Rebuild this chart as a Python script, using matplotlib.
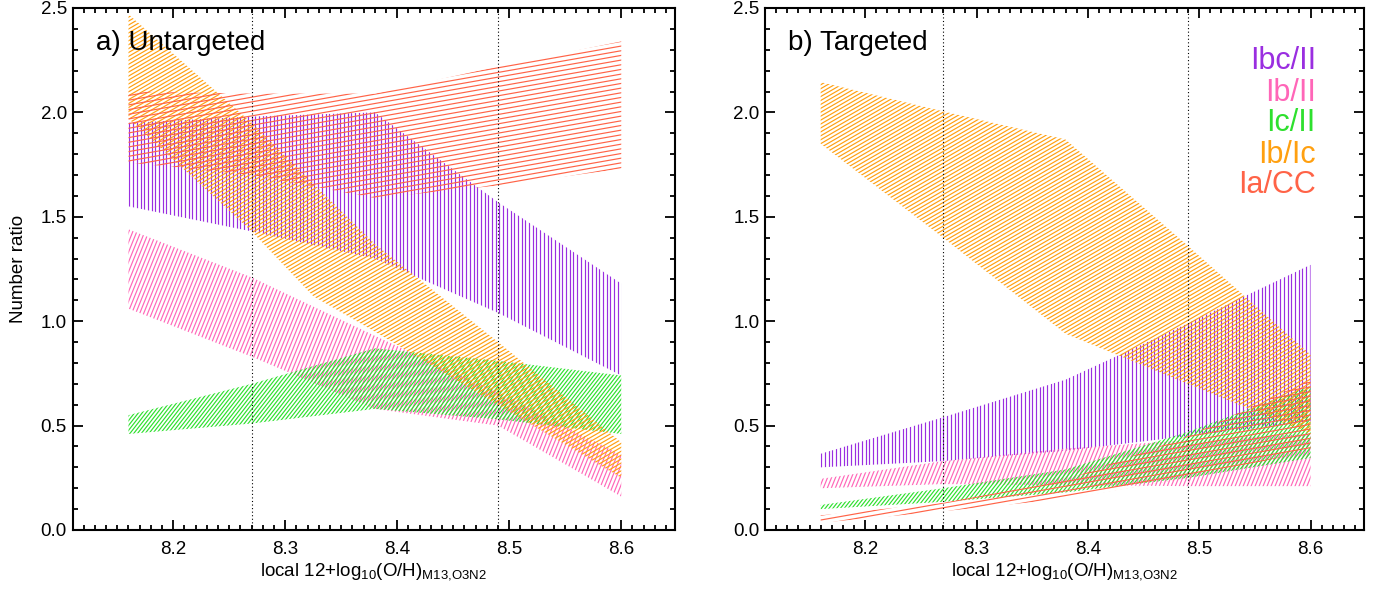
import numpy as np
import matplotlib
matplotlib.use('Agg')
import matplotlib.pyplot as plt
from matplotlib.collections import LineCollection
from matplotlib.transforms import IdentityTransform
from matplotlib.ticker import MultipleLocator, FormatStrFormatter

plt.rcParams['font.family'] = ['Liberation Sans', 'DejaVu Sans']
plt.rcParams['mathtext.fontset'] = 'custom'
plt.rcParams['mathtext.rm'] = 'Liberation Sans'
plt.rcParams['mathtext.it'] = 'Liberation Sans'
plt.rcParams['mathtext.default'] = 'regular'

# ---------------- data ----------------
x5 = [8.16, 8.27, 8.38, 8.49, 8.60]
x6 = [8.16, 8.27, 8.325, 8.38, 8.49, 8.60]

# panel a) Untargeted
a_ibc_hi = [1.95, 1.98, 2.00, 1.57, 1.18]
a_ibc_lo = [1.55, 1.43, 1.30, 1.04, 0.74]
a_ib_hi = [1.44, 1.21, 0.93, 0.66, 0.36]
a_ib_lo = [1.06, 0.83, 0.58, 0.50, 0.16]
a_ic_hi = [0.55, 0.70, 0.87, 0.81, 0.74]
a_ic_lo = [0.46, 0.51, 0.58, 0.53, 0.46]
a_ibic_hi = [2.47, 1.95, 1.66, 1.37, 0.90, 0.42]
a_ibic_lo = [1.97, 1.43, 1.12, 0.95, 0.60, 0.25]
a_ia_hi = [2.10, 2.09, 2.09, 2.22, 2.34]
a_ia_lo = [1.76, 1.70, 1.59, 1.65, 1.73]

# panel b) Targeted
b_ibc_hi = [0.365, 0.54, 0.72, 0.99, 1.27]
b_ibc_lo = [0.30, 0.33, 0.38, 0.45, 0.52]
b_ib_hi = [0.245, 0.33, 0.39, 0.43, 0.46]
b_ib_lo = [0.20, 0.22, 0.215, 0.21, 0.21]
b_ic_hi = [0.12, 0.20, 0.29, 0.47, 0.69]
b_ic_lo = [0.10, 0.135, 0.18, 0.25, 0.345]
b_ibic_hi = [2.145, 2.005, 1.87, 1.36, 0.84]
b_ibic_lo = [1.85, 1.40, 0.94, 0.70, 0.46]
b_ia_hi = [0.07, 0.13, 0.24, 0.45, 0.72]
b_ia_lo = [0.035, 0.09, 0.15, 0.25, 0.38]

labels = ['Ibc/II', 'Ib/II', 'Ic/II', 'Ib/Ic', 'Ia/CC']
colors = ['#9a2ee0', '#ff66b8', '#2ee02e', '#ffa010', '#ff6347']
hatch_angle = [90, 68, 52, 30, 10]
hatch_space = [3.7, 3.7, 3.0, 3.4, 4.6]

metal_lines = [8.27, 8.49]
titles = ['a) Untargeted', 'b) Targeted']

# ---------------- figure ----------------
W, H = 1378, 590
fig = plt.figure(figsize=(W / 100, H / 100), dpi=100)
axL = fig.add_axes([72.5 / W, 60 / H, 602.5 / W, 522 / H])
axR = fig.add_axes([765 / W, 60 / H, 599 / W, 522 / H])


def hatch_band(ax, x, lo, hi, color, angle, spacing, lw=0.85):
    coll = ax.fill_between(x, lo, hi, facecolor='none', edgecolor='none',
                           linewidth=0)
    path = coll.get_paths()[0]
    bb = ax.get_window_extent()
    th = np.deg2rad(angle)
    u = np.array([np.cos(th), np.sin(th)])
    n = np.array([-np.sin(th), np.cos(th)])
    corners = np.array([[bb.x0, bb.y0], [bb.x1, bb.y0],
                        [bb.x0, bb.y1], [bb.x1, bb.y1]])
    pn = corners @ n
    pu = corners @ u
    cs = np.arange(np.floor(pn.min() / spacing) * spacing,
                   pn.max() + spacing, spacing)
    segs = [[c * n + pu.min() * u, c * n + pu.max() * u] for c in cs]
    lc = LineCollection(segs, colors=color, linewidths=lw,
                        transform=IdentityTransform())
    ax.add_collection(lc, autolim=False)
    lc.set_clip_path(path, ax.transData)


bands_a = [(x5, a_ibc_lo, a_ibc_hi), (x5, a_ib_lo, a_ib_hi),
           (x5, a_ic_lo, a_ic_hi), (x6, a_ibic_lo, a_ibic_hi),
           (x5, a_ia_lo, a_ia_hi)]
bands_b = [(x5, b_ibc_lo, b_ibc_hi), (x5, b_ib_lo, b_ib_hi),
           (x5, b_ic_lo, b_ic_hi), (x5, b_ibic_lo, b_ibic_hi),
           (x5, b_ia_lo, b_ia_hi)]

for ax, bands, title in [(axL, bands_a, titles[0]), (axR, bands_b, titles[1])]:
    ax.set_xlim(8.11, 8.648)
    ax.set_ylim(0, 2.5)
    for (xx, lo, hi), c, ang, sp in zip(bands, colors, hatch_angle, hatch_space):
        hatch_band(ax, xx, lo, hi, c, ang, sp)
    for xm in metal_lines:
        ax.axvline(xm, color='k', lw=0.8, ls=(0, (1, 2.2)))
    ax.xaxis.set_major_locator(MultipleLocator(0.1))
    ax.xaxis.set_minor_locator(MultipleLocator(0.01))
    ax.yaxis.set_major_locator(MultipleLocator(0.5))
    ax.yaxis.set_minor_locator(MultipleLocator(0.1))
    ax.xaxis.set_major_formatter(FormatStrFormatter('%.1f'))
    ax.yaxis.set_major_formatter(FormatStrFormatter('%.1f'))
    ax.tick_params(which='both', direction='in', top=True, right=True,
                   width=1.3, labelsize=13.5, colors='k')
    ax.tick_params(which='major', length=7, pad=8)
    ax.tick_params(axis='y', which='major', pad=4)
    ax.tick_params(which='minor', length=3.3)
    for s in ax.spines.values():
        s.set_linewidth(1.5)
    ax.set_xlabel('local 12+log$_{10}$(O/H)$_{M13{,}O3N2}$', fontsize=13.5,
                  labelpad=2)
    ax.text(8.131, 2.30, title, fontsize=20, ha='left', va='baseline')

axL.set_ylabel('Number ratio', fontsize=13.5, labelpad=10)

leg_y = [2.207, 2.055, 1.91, 1.76, 1.615]
for lab, c, yy in zip(labels, colors, leg_y):
    axR.text(8.6047, yy, lab, color=c, fontsize=22, ha='right', va='baseline')

fig.savefig('out.png', dpi=100)
